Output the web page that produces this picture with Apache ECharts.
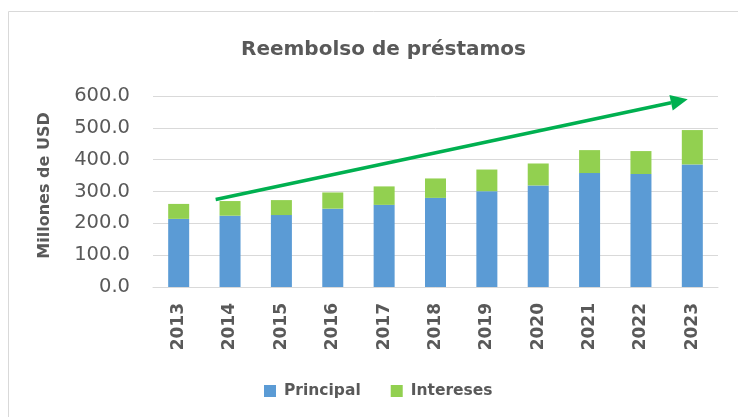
<!DOCTYPE html>
<html>
<head>
<meta charset="utf-8">
<script src="https://cdn.jsdelivr.net/npm/echarts@6/dist/echarts.min.js"></script>
<style>
  html, body { margin: 0; padding: 0; background: #fff; }
  #chart { width: 738px; height: 417px; }
</style>
</head>
<body>
<div id="chart"></div>
<script>
var years = ['2013', '2014', '2015', '2016', '2017', '2018', '2019', '2020', '2021', '2022', '2023'];
var principal = [214, 224, 226, 246, 258, 280, 301, 319, 358, 355, 385];
var intereses = [47, 46, 47, 51, 58, 61, 68, 69, 72, 72, 108];
// arrow drawn over the chart: [category position, value]
var arrowStart = [0.72, 275];
var arrowEnd = [9.91, 590];

var textColor = '#595959';
var font = 'DejaVu Sans';

var myChart = echarts.init(document.getElementById('chart'));
var option = {
  animation: false,
  title: {
    text: 'Reembolso de préstamos',
    left: 236,
    top: 35,
    textStyle: { color: textColor, fontFamily: font, fontSize: 20, fontWeight: 'bold' }
  },
  legend: {
    data: ['Principal', 'Intereses'],
    left: 259,
    top: 378,
    itemWidth: 12,
    itemHeight: 12,
    itemGap: 30,
    icon: 'rect',
    textStyle: {
      color: textColor, fontFamily: font, fontSize: 15.5, fontWeight: 'bold',
      padding: [0, 0, 0, 3]
    }
  },
  grid: {
    left: 153,
    right: 20,
    top: 96,
    bottom: 130
  },
  xAxis: {
    type: 'category',
    data: years,
    axisTick: { show: false },
    axisLine: { lineStyle: { color: '#d9d9d9', width: 1 } },
    axisLabel: {
      rotate: 90,
      margin: 16,
      color: textColor,
      fontFamily: font,
      fontSize: 17,
      fontWeight: 'bold'
    }
  },
  yAxis: {
    type: 'value',
    min: 0,
    max: 600,
    interval: 100,
    name: 'Millones de USD',
    nameLocation: 'middle',
    nameGap: 100,
    nameTextStyle: {
      color: textColor, fontFamily: font, fontSize: 16, fontWeight: 'bold',
      padding: [0, 0, 0, 12]
    },
    axisLine: { show: false },
    axisTick: { show: false },
    splitLine: { lineStyle: { color: '#d9d9d9', width: 1 } },
    axisLabel: {
      margin: 23,
      color: textColor,
      fontFamily: font,
      fontSize: 19.5,
      formatter: function (v) { return v.toFixed(1); }
    }
  },
  series: [
    {
      name: 'Principal',
      type: 'bar',
      stack: 'total',
      barWidth: 21,
      data: principal,
      itemStyle: { color: '#5B9BD5' }
    },
    {
      name: 'Intereses',
      type: 'bar',
      stack: 'total',
      barWidth: 21,
      data: intereses,
      itemStyle: { color: '#92D050' }
    }
  ]
};
myChart.setOption(option);

// pixel of a fractional category position
function toPixel(pt) {
  var i = Math.floor(pt[0]);
  var a = myChart.convertToPixel({ gridIndex: 0 }, [i, pt[1]]);
  var b = myChart.convertToPixel({ gridIndex: 0 }, [i + 1, pt[1]]);
  return [a[0] + (b[0] - a[0]) * (pt[0] - i), a[1]];
}
var p0 = toPixel(arrowStart);
var p1 = toPixel(arrowEnd);
var ang = Math.atan2(p1[1] - p0[1], p1[0] - p0[0]);
var headLen = 17, headHalf = 8;
var base = [p1[0] - headLen * Math.cos(ang), p1[1] - headLen * Math.sin(ang)];
var nx = -Math.sin(ang), ny = Math.cos(ang);

myChart.setOption({
  graphic: [
    {
      type: 'rect',
      shape: { x: 8.5, y: 11.5, width: 800, height: 500 },
      style: { fill: 'none', stroke: '#d9d9d9', lineWidth: 1 },
      silent: true,
      z: -1
    },
    {
      type: 'line',
      shape: { x1: p0[0], y1: p0[1], x2: base[0], y2: base[1] },
      style: { stroke: '#00B050', lineWidth: 3.5 },
      z: 10
    },
    {
      type: 'polygon',
      shape: {
        points: [
          p1,
          [base[0] + nx * headHalf, base[1] + ny * headHalf],
          [base[0] - nx * headHalf, base[1] - ny * headHalf]
        ]
      },
      style: { fill: '#00B050' },
      z: 10
    }
  ]
});
</script>
</body>
</html>
